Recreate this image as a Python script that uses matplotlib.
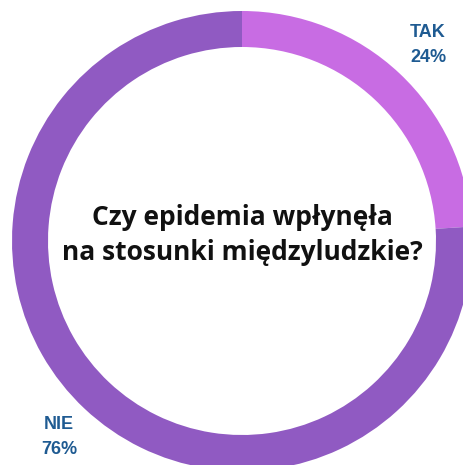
import matplotlib
matplotlib.use("Agg")
import matplotlib.pyplot as plt

# Survey answers
labels = ["TAK", "NIE"]
shares = [24, 76]
colors = ["#c86ce3", "#905ac2"]
title_lines = ["Czy epidemia wpłynęła", "na stosunki międzyludzkie?"]

W, H = 464, 465
fig = plt.figure(figsize=(W / 100, H / 100), dpi=100)
ax = fig.add_axes([0, 0, 1, 1])
ax.set_xlim(0, W)
ax.set_ylim(H, 0)
ax.set_aspect("equal")
ax.axis("off")

# donut ring, a bit bigger than the canvas on the right/bottom
cx, cy, R = 242, 241, 230
wedges, _ = ax.pie(shares, colors=colors, startangle=90, counterclock=False,
                   center=(cx, cy), radius=R,
                   wedgeprops=dict(width=36, linewidth=0))
ax.set_xlim(0, W)
ax.set_ylim(H, 0)

# the pie is drawn with y up; flip it by mirroring in data space
for w in wedges:
    w.set_transform(matplotlib.transforms.Affine2D()
                    .translate(-cx, -cy).scale(1, -1).translate(cx, cy) + ax.transData)

ax.text(cx, 217, title_lines[0], ha="center", va="center",
        fontsize=19, fontweight="bold", family="Open Sans", color="#111111")
ax.text(cx, 252, title_lines[1], ha="center", va="center",
        fontsize=19, fontweight="bold", family="Open Sans", color="#111111")

lab_color = "#1f5b92"
ax.text(428, 45, f"{labels[0]}\n{shares[0]}%", ha="center", va="center",
        fontsize=13, fontweight="bold", family="Liberation Sans",
        color=lab_color, linespacing=1.6)
ax.text(59, 437, f"{labels[1]}\n{shares[1]}%", ha="center", va="center",
        fontsize=13, fontweight="bold", family="Liberation Sans",
        color=lab_color, linespacing=1.6)

fig.savefig("out.png", dpi=100)
